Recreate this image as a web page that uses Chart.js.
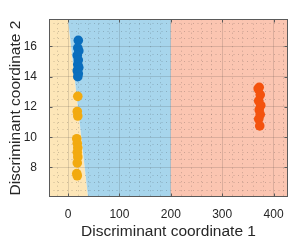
<!DOCTYPE html>
<html>
<head>
<meta charset="utf-8">
<script src="https://cdn.jsdelivr.net/npm/chart.js@4"></script>
<style>
  html, body { margin: 0; padding: 0; background: #fff; }
  #wrap { width: 295px; height: 244px; }
</style>
</head>
<body>
<div id="wrap"><canvas id="c" width="295" height="244"></canvas></div>
<script>
// ---- data ----
const blueX   = [20, 19, 21, 18, 20, 19, 21, 18, 20, 19];
const blueY   = [16.4, 15.9, 15.7, 15.4, 15.1, 14.8, 14.6, 14.4, 14.2, 14.0];
const orangeX = [19, 18, 19, 17, 18, 19, 18, 19, 18, 17, 18];
const orangeY = [12.7, 11.7, 11.4, 9.9, 9.6, 9.3, 9.0, 8.7, 8.3, 7.6, 7.45];
const redX    = [372, 370, 374, 371, 375, 372, 374, 371, 373];
const redY    = [13.3, 13.2, 12.8, 12.4, 12.1, 11.8, 11.5, 11.2, 10.75];

// decision region boundaries (data units)
const boundaryYellowBlueX = [0, 39];      // at top (y max) and bottom (y min)
const boundaryBlueRedX    = [200, 200];

// axis ranges and ticks
const xRange = [-37, 428];
const yRange = [6.05, 17.8];
const xTicks = [0, 100, 200, 300, 400];
const yTicks = [8, 10, 12, 14, 16];
const xMinorStep = 20;
const yMinorStep = 0.5;

const xTitle = 'Discriminant coordinate 1';
const yTitle = 'Discriminant coordinate 2';

// ---- styles ----
const FONT = "'Liberation Sans', Arial, sans-serif";
const TEXT = '#262626';
const regionColors = ['#FDE6B8', '#A7D5EC', '#FBC5B1'];
const pointColors = ['#0A6EBD', '#F2AA0F', '#F4520D'];

function pts(xs, ys) { return xs.map((v, i) => ({ x: v, y: ys[i] })); }
function minorTicks(min, max, step, majors) {
  const out = [];
  const start = Math.ceil(min / step) * step;
  for (let v = start; v <= max + 1e-9; v += step) {
    const r = Math.round(v * 1000) / 1000;
    if (!majors.some(m => Math.abs(m - r) < 1e-6)) out.push({ value: r });
  }
  return out;
}

const regionPlugin = {
  id: 'regions',
  beforeDraw(chart) {
    const { ctx, chartArea: a, scales: { x, y } } = chart;
    const xl = x.min, xr = x.max, yt = y.max, yb = y.min;
    const polys = [
      [[xl, yt], [boundaryYellowBlueX[0], yt], [boundaryYellowBlueX[1], yb], [xl, yb]],
      [[boundaryYellowBlueX[0], yt], [boundaryBlueRedX[0], yt], [boundaryBlueRedX[1], yb], [boundaryYellowBlueX[1], yb]],
      [[boundaryBlueRedX[0], yt], [xr, yt], [xr, yb], [boundaryBlueRedX[1], yb]]
    ];
    ctx.save();
    ctx.beginPath();
    ctx.rect(a.left, a.top, a.right - a.left, a.bottom - a.top);
    ctx.clip();
    polys.forEach((p, k) => {
      ctx.fillStyle = regionColors[k];
      ctx.beginPath();
      p.forEach(([vx, vy], i) => {
        const px = x.getPixelForValue(vx), py = y.getPixelForValue(vy);
        if (i) ctx.lineTo(px, py); else ctx.moveTo(px, py);
      });
      ctx.closePath();
      ctx.fill();
    });
    ctx.restore();
  },
  afterDraw(chart) {
    const { ctx, chartArea: a, scales: { x, y } } = chart;
    ctx.save();
    ctx.strokeStyle = '#5a5a5a';
    ctx.lineWidth = 1;
    const L = Math.round(a.left) + 0.5, R = Math.round(a.right) - 0.5;
    const T = Math.round(a.top) + 0.5, B = Math.round(a.bottom) - 0.5;
    ctx.strokeRect(L, T, R - L, B - T);
    const tl = 3;
    ctx.beginPath();
    xTicks.forEach(v => {
      const px = Math.round(x.getPixelForValue(v)) + 0.5;
      ctx.moveTo(px, B); ctx.lineTo(px, B - tl);
      ctx.moveTo(px, T); ctx.lineTo(px, T + tl);
    });
    yTicks.forEach(v => {
      const py = Math.round(y.getPixelForValue(v)) + 0.5;
      ctx.moveTo(L, py); ctx.lineTo(L + tl, py);
      ctx.moveTo(R, py); ctx.lineTo(R - tl, py);
    });
    ctx.stroke();
    ctx.restore();
  }
};

const ds = (xs, ys, c) => ({
  data: pts(xs, ys),
  backgroundColor: c,
  borderColor: c,
  borderWidth: 0,
  pointRadius: 4.8,
  pointHoverRadius: 4.8
});

new Chart(document.getElementById('c'), {
  type: 'scatter',
  data: {
    datasets: [
      ds(blueX, blueY, pointColors[0]),
      ds(orangeX, orangeY, pointColors[1]),
      ds(redX, redY, pointColors[2])
    ]
  },
  options: {
    responsive: false,
    animation: false,
    events: [],
    layout: { padding: { left: 0, right: 7, top: 9, bottom: 0 } },
    plugins: { legend: { display: false }, tooltip: { enabled: false } },
    scales: {
      x: {
        type: 'linear', position: 'bottom',
        min: xRange[0], max: xRange[1],
        afterBuildTicks: s => { s.ticks = xTicks.map(v => ({ value: v })); },
        afterFit: s => { s.height = 47; },
        grid: { color: 'rgba(38,38,38,0.15)', lineWidth: 1, drawTicks: false },
        border: { display: false },
        ticks: { padding: 10, color: TEXT, font: { family: FONT, size: 12 }, maxRotation: 0 },
        title: { display: true, text: xTitle, color: TEXT, font: { family: FONT, size: 15.5 }, padding: { top: 0, bottom: 2.5 } }
      },
      y: {
        type: 'linear', position: 'left',
        min: yRange[0], max: yRange[1],
        afterBuildTicks: s => { s.ticks = yTicks.map(v => ({ value: v })); },
        afterFit: s => { s.width = 49; },
        grid: { color: 'rgba(38,38,38,0.15)', lineWidth: 1, drawTicks: false },
        border: { display: false },
        ticks: { padding: 12, color: TEXT, font: { family: FONT, size: 12 } },
        title: { display: true, text: yTitle, color: TEXT, font: { family: FONT, size: 15.5 }, padding: { top: 6, bottom: 0 } }
      },
      xm: {
        type: 'linear', position: 'bottom',
        min: xRange[0], max: xRange[1],
        afterBuildTicks: s => { s.ticks = minorTicks(xRange[0], xRange[1], xMinorStep, xTicks); },
        afterFit: s => { s.height = 0; },
        grid: { color: 'rgba(38,38,38,0.22)', lineWidth: 1, drawTicks: false },
        border: { display: false, dash: [1, 3.5] },
        ticks: { display: false }
      },
      ym: {
        type: 'linear', position: 'left',
        min: yRange[0], max: yRange[1],
        afterBuildTicks: s => { s.ticks = minorTicks(yRange[0], yRange[1], yMinorStep, yTicks); },
        afterFit: s => { s.width = 0; },
        grid: { color: 'rgba(38,38,38,0.22)', lineWidth: 1, drawTicks: false },
        border: { display: false, dash: [1, 3.5] },
        ticks: { display: false }
      }
    }
  },
  plugins: [regionPlugin]
});
</script>
</body>
</html>
